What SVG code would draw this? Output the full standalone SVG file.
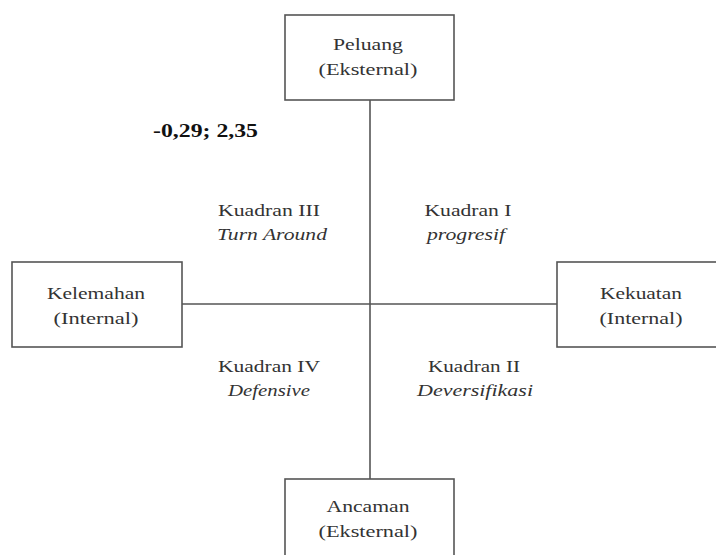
<svg xmlns="http://www.w3.org/2000/svg" width="716" height="555" viewBox="0 0 716 555">
<style>
.box{fill:#fff;stroke:#555;stroke-width:1.6}
.ln{stroke:#555;stroke-width:1.6;fill:none}
text{font-family:"Liberation Serif","Times New Roman",serif;font-size:16.5px;fill:#333;text-anchor:middle}
.it{font-style:italic}
.b{font-weight:bold;font-size:19px;fill:#111;text-anchor:start}
</style>
<rect width="716" height="555" fill="#fff"/>
<g id="connectors">
<line class="ln" x1="370" y1="100" x2="370" y2="479"/>
<line class="ln" x1="182" y1="304" x2="557" y2="304"/>
</g>
<g id="peluang">
<rect class="box" x="285" y="15" width="169" height="85"/>
<text x="368" y="50" textLength="70" lengthAdjust="spacingAndGlyphs">Peluang</text>
<text x="368" y="75" textLength="99" lengthAdjust="spacingAndGlyphs">(Eksternal)</text>
</g>
<g id="kelemahan">
<rect class="box" x="12" y="262" width="170" height="85"/>
<text x="96" y="299" textLength="98" lengthAdjust="spacingAndGlyphs">Kelemahan</text>
<text x="96" y="324" textLength="85" lengthAdjust="spacingAndGlyphs">(Internal)</text>
</g>
<g id="kekuatan">
<rect class="box" x="557" y="262" width="170" height="85"/>
<text x="641" y="299" textLength="82" lengthAdjust="spacingAndGlyphs">Kekuatan</text>
<text x="641" y="324" textLength="83" lengthAdjust="spacingAndGlyphs">(Internal)</text>
</g>
<g id="ancaman">
<rect class="box" x="285" y="479" width="169" height="85"/>
<text x="368" y="512" textLength="83" lengthAdjust="spacingAndGlyphs">Ancaman</text>
<text x="368" y="537" textLength="99" lengthAdjust="spacingAndGlyphs">(Eksternal)</text>
</g>
<g id="labels">
<text class="b" x="153" y="137" textLength="105" lengthAdjust="spacingAndGlyphs">-0,29; 2,35</text>
<text x="269" y="216" textLength="102" lengthAdjust="spacingAndGlyphs">Kuadran III</text>
<text class="it" x="272" y="240" textLength="110" lengthAdjust="spacingAndGlyphs">Turn Around</text>
<text x="468" y="216" textLength="87" lengthAdjust="spacingAndGlyphs">Kuadran I</text>
<text class="it" x="466" y="240" textLength="78" lengthAdjust="spacingAndGlyphs">progresif</text>
<text x="269" y="372" textLength="102" lengthAdjust="spacingAndGlyphs">Kuadran IV</text>
<text class="it" x="269" y="396" textLength="82" lengthAdjust="spacingAndGlyphs">Defensive</text>
<text x="474" y="372" textLength="92" lengthAdjust="spacingAndGlyphs">Kuadran II</text>
<text class="it" x="475" y="396" textLength="116" lengthAdjust="spacingAndGlyphs">Deversifikasi</text>
</g>
</svg>
